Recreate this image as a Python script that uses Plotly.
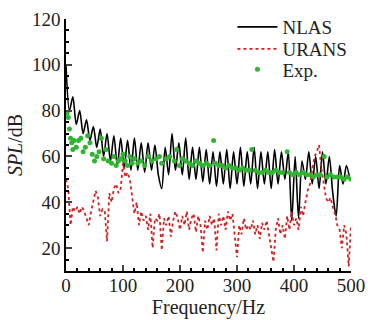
import plotly.graph_objects as go

# NLAS spectrum, sampled every 6 Hz (f = 0 ... 498)
freq_nlas = list(range(0, 499, 6))
nlas_spl = [
    100, 80, 86, 74, 80, 70, 76, 67, 73, 64,
    72, 60, 70, 58, 69, 56, 68, 55, 67, 54,
    68, 54, 66, 53, 66, 54, 65, 52, 46, 64,
    52, 70, 54, 66, 52, 68, 50, 64, 50, 64,
    49, 63, 48, 62, 47, 62, 48, 63, 46, 62,
    48, 64, 47, 62, 48, 64, 46, 62, 48, 62,
    46, 63, 48, 62, 50, 62, 32, 60, 33, 58,
    50, 62, 48, 60, 46, 62, 48, 60, 44, 34,
    56, 48, 56, 50,
]

# URANS spectrum, sampled every 4 Hz (f = 0 ... 500)
freq_urans = list(range(0, 501, 4))
urans_spl = [
    50, 46, 30, 38, 36, 38, 35, 38, 36, 33, 30, 36, 40, 45, 42, 34, 37, 36, 23, 44,
    40, 46, 48, 44, 46, 57, 51, 53, 50, 42, 35, 40, 30, 36, 32, 34, 28, 35, 20, 33,
    32, 35, 19, 33, 30, 34, 25, 32, 36, 33, 28, 34, 30, 36, 28, 33, 35, 27, 34, 30,
    18, 32, 28, 34, 30, 33, 19, 35, 30, 34, 28, 36, 32, 35, 24, 16, 30, 26, 33, 28,
    30, 28, 32, 26, 30, 24, 31, 28, 32, 25, 20, 14, 28, 33, 26, 30, 24, 34, 28, 36,
    30, 33, 28, 38, 34, 40, 45, 48, 55, 60, 62, 65, 55, 48, 42, 40, 42, 38, 35, 30,
    28, 20, 30, 26, 12, 30,
]

exp_freq = [
    2, 4, 6, 8, 10, 12, 14, 18, 22, 26, 30, 34, 38, 42, 46, 50, 54, 58, 62, 66,
    70, 74, 80, 84, 88, 92, 96, 100, 104, 108, 112, 116, 120, 126, 132, 138, 144, 150, 158, 164,
    168, 176, 182, 190, 194, 199, 204, 210, 216, 222, 228, 234, 240, 246, 252, 259, 262, 268, 274, 280,
    286, 292, 298, 304, 310, 316, 322, 326, 332, 338, 344, 350, 356, 362, 368, 374, 380, 388, 392, 398,
    404, 410, 416, 422, 428, 434, 440, 446, 453, 458, 464, 470, 476, 482, 488, 494, 500,
]
exp_spl = [
    79, 77, 72, 68, 66, 63, 67, 64, 67, 68, 62, 64, 69, 66, 61, 58, 60, 62, 68, 59,
    63, 58, 57, 60, 56, 58, 59, 61, 58, 56, 60, 57, 59, 57, 58, 56, 60, 58, 59, 60,
    57, 59, 60, 58, 63, 56, 59, 58, 57, 56, 58, 57, 56, 57, 56, 67, 57, 56, 56, 55,
    56, 55, 55, 54, 55, 54, 54, 63, 54, 53, 53, 54, 53, 53, 54, 53, 53, 62, 53, 52,
    53, 52, 53, 52, 52, 51, 52, 52, 60, 51, 52, 51, 51, 51, 50, 51, 50,
]

x_ticks = [0, 100, 200, 300, 400, 500]
y_ticks = [20, 40, 60, 80, 100, 120]

font_family = "Liberation Serif"

fig = go.Figure()
fig.add_trace(go.Scatter(x=freq_nlas, y=nlas_spl, mode="lines", name="NLAS", legend="legend",
                         line=dict(color="black", width=1.6, shape="spline", smoothing=0.8)))
fig.add_trace(go.Scatter(x=freq_urans, y=urans_spl, mode="lines", name="URANS", legend="legend2",
                         line=dict(color="#d42020", width=1.8, dash="dot")))
fig.add_trace(go.Scatter(x=exp_freq, y=exp_spl, mode="markers", name="Exp.", legend="legend3",
                         marker=dict(color="#2fb52f", size=5)))

leg_common = dict(x=0.584, xanchor="left", yanchor="middle", bgcolor="rgba(0,0,0,0)",
                  font=dict(size=19, family=font_family, color="#222"), itemwidth=40)

fig.update_layout(
    width=368, height=320,
    margin=dict(l=66, r=17, t=19, b=49, autoexpand=False),
    paper_bgcolor="white", plot_bgcolor="white",
    font=dict(family=font_family, size=19, color="#222"),
    showlegend=True,
    legend=dict(y=0.968, **leg_common),
    legend2=dict(y=0.881, **leg_common),
    legend3=dict(y=0.800, **leg_common),
)
fig.update_xaxes(
    range=[0, 500], tickvals=x_ticks, ticks="inside", ticklen=6, tickwidth=1.5,
    showline=True, linecolor="black", linewidth=1.5, showgrid=False, zeroline=False,
    automargin=False, ticklabelstandoff=-4,
    minor=dict(ticks="inside", dtick=20, ticklen=3, tickcolor="black", showgrid=False),
    tickfont=dict(size=19), title=dict(text="Frequency/Hz", font=dict(size=20), standoff=0),
)
fig.update_yaxes(
    range=[10, 120], tickvals=y_ticks, ticks="inside", ticklen=6, tickwidth=1.5,
    showline=True, linecolor="black", linewidth=1.5, showgrid=False, zeroline=False,
    automargin=False,
    minor=dict(ticks="inside", dtick=5, ticklen=3, tickcolor="black", showgrid=False),
    tickfont=dict(size=19), title=dict(text="<i>SPL</i>/dB", font=dict(size=20), standoff=4),
)

fig.write_html("out.html", config={"displayModeBar": False},
               post_script="document.body.style.margin='0';")
